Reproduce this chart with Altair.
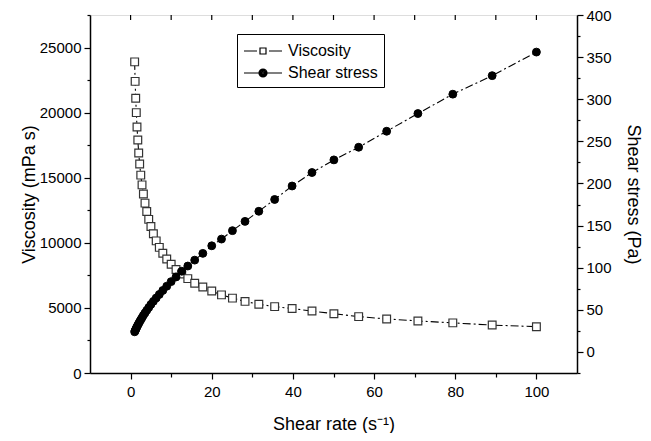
import altair as alt
import pandas as pd

shear_rate = [1.00, 1.12, 1.26, 1.41, 1.58, 1.78, 2.00, 2.24, 2.51, 2.82,
              3.16, 3.55, 3.98, 4.47, 5.01, 5.62, 6.31, 7.08, 7.94, 8.91,
              10.0, 11.2, 12.6, 14.1, 15.8, 17.8, 20.0, 22.4, 25.1, 28.2,
              31.6, 35.5, 39.8, 44.7, 50.1, 56.2, 63.1, 70.8, 79.4, 89.1, 100.0]
viscosity = [23900, 22400, 21100, 20000, 18900, 17900, 16900, 16050, 15200, 14450,
             13750, 13050, 12400, 11800, 11250, 10700, 10150, 9650, 9200, 8750,
             8350, 7950, 7600, 7250, 6900, 6600, 6300, 6000, 5750, 5500,
             5280, 5100, 4950, 4760, 4550, 4330, 4150, 4000, 3850, 3680, 3560]
shear_stress = [23.9, 25.1, 26.6, 28.2, 29.9, 31.9, 33.8, 36.0, 38.2, 40.7,
                43.5, 46.3, 49.4, 52.7, 56.4, 60.1, 64.0, 68.3, 73.0, 78.0,
                83.5, 89.0, 95.8, 102, 109, 117, 126, 134, 144, 155,
                167, 181, 197, 213, 228, 243, 262, 283, 306, 328, 356]
series_names = ["Viscosity", "Shear stress"]
x_ticks = [0, 10, 20, 30, 40, 50, 60, 70, 80, 90, 100]
visc_ticks = list(range(0, 27501, 2500))
stress_ticks = list(range(-25, 401, 25))

df = pd.DataFrame({"rate": shear_rate, "visc": viscosity, "stress": shear_stress})
legend_df = pd.DataFrame({"series": series_names})
top_tick_df = pd.DataFrame({"rate": x_ticks})

FONT = "Liberation Sans"
PLOT_W, PLOT_H = 487, 358
common_axis = dict(domainColor="black", domainWidth=1.5, tickColor="black", tickWidth=1.2,
                   labelFont=FONT, labelFontSize=15, labelColor="black",
                   titleFont=FONT, titleFontSize=18, titleFontWeight="normal",
                   titleColor="black", grid=False)

x_scale = alt.Scale(domain=[-10, 110], nice=False, zero=False)
x_enc = alt.X("rate:Q", scale=x_scale, title="Shear rate (s⁻¹)",
              axis=alt.Axis(values=x_ticks, format="d",
                            labelExpr="datum.value % 20 === 0 ? datum.label : ''",
                            tickSize={"condition": {"test": "datum.value % 20 === 0", "value": 6}, "value": 4},
                            labelPadding=5, titlePadding=16, **common_axis))

y_visc = alt.Y("visc:Q", scale=alt.Scale(domain=[0, 27500], nice=False, zero=False),
               title="Viscosity (mPa s)",
               axis=alt.Axis(orient="left", values=visc_ticks, format="d",
                             labelExpr="datum.value % 5000 === 0 ? datum.label : ''",
                             tickSize={"condition": {"test": "datum.value % 5000 === 0", "value": 6}, "value": 3},
                             labelPadding=3, titlePadding=1, **common_axis))
y_stress = alt.Y("stress:Q", scale=alt.Scale(domain=[-25, 400], nice=False, zero=False),
                 title="Shear stress (Pa)",
                 axis=alt.Axis(orient="right", values=stress_ticks, format="d",
                               labelExpr="(datum.value % 50 === 0 && datum.value >= 0) ? datum.label : ''",
                               tickSize={"condition": {"test": "datum.value % 50 === 0", "value": 6}, "value": 3},
                               labelPadding=3, titlePadding=12, **common_axis))

dash = [8, 3, 2, 3]
visc_line = alt.Chart(df).mark_line(color="black", strokeWidth=1.1, strokeDash=dash).encode(x=x_enc, y=y_visc)
visc_pts = alt.Chart(df).mark_point(shape="square", filled=True, fill="white", stroke="#333333",
                                    strokeWidth=1.2, size=60, opacity=1).encode(x=x_enc, y=y_visc)
stress_line = alt.Chart(df).mark_line(color="black", strokeWidth=1.1, strokeDash=dash).encode(x=x_enc, y=y_stress)
stress_pts = alt.Chart(df).mark_point(shape="circle", filled=True, fill="black", stroke="black",
                                      strokeWidth=1, size=62, opacity=1).encode(x=x_enc, y=y_stress)

visc = alt.layer(visc_line, visc_pts)
stress = alt.layer(stress_line, stress_pts)

# inward tick marks along the top frame, placed by the x scale
top_ticks = alt.Chart(top_tick_df).mark_rule(color="black", strokeWidth=1.2).encode(
    x=x_enc, y=alt.value(0), y2=alt.value(5))

# legend glyphs: line - marker - line ; filled disc drawn with concentric rings
path_visc = "M-1,0H0.3M1.5,0H2.8M0.6,-0.3H1.2V0.3H0.6Z"
path_stress = ("M-1,0H0.5M1.3,0H2.8"
               "M0.5,0A0.4,0.4,0,1,1,1.3,0A0.4,0.4,0,1,1,0.5,0Z"
               "M0.6,0A0.3,0.3,0,1,1,1.2,0A0.3,0.3,0,1,1,0.6,0Z"
               "M0.7,0A0.2,0.2,0,1,1,1.1,0A0.2,0.2,0,1,1,0.7,0Z"
               "M0.8,0A0.1,0.1,0,1,1,1.0,0A0.1,0.1,0,1,1,0.8,0Z")

leg = alt.Legend(orient="none", legendX=147, legendY=19, title=None, padding=6,
                 strokeColor="black", fillColor="white", labelFont=FONT, labelFontSize=16,
                 labelColor="black", symbolSize=400, symbolStrokeWidth=1.2,
                 symbolStrokeColor="black",
                 labelOffset=23, rowPadding=3, cornerRadius=0)

legend_layer = alt.Chart(legend_df).mark_point(filled=False, color="black", strokeWidth=1.2,
                                               size=400, clip=True, opacity=1).encode(
    x=alt.value(-400), y=alt.value(-400),
    shape=alt.Shape("series:N", scale=alt.Scale(domain=series_names, range=[path_visc, path_stress]), legend=leg),
)

chart = alt.layer(visc, stress, top_ticks, legend_layer).resolve_scale(y="independent").properties(
    width=PLOT_W, height=PLOT_H,
    autosize=alt.AutoSizeParams(type="none"),
    padding={"left": 82, "top": 7, "right": 66, "bottom": 60},
).configure_view(stroke="black", strokeWidth=1.5).configure(background="white")

chart.save("out.html", embed_options={"renderer": "svg", "actions": False})
